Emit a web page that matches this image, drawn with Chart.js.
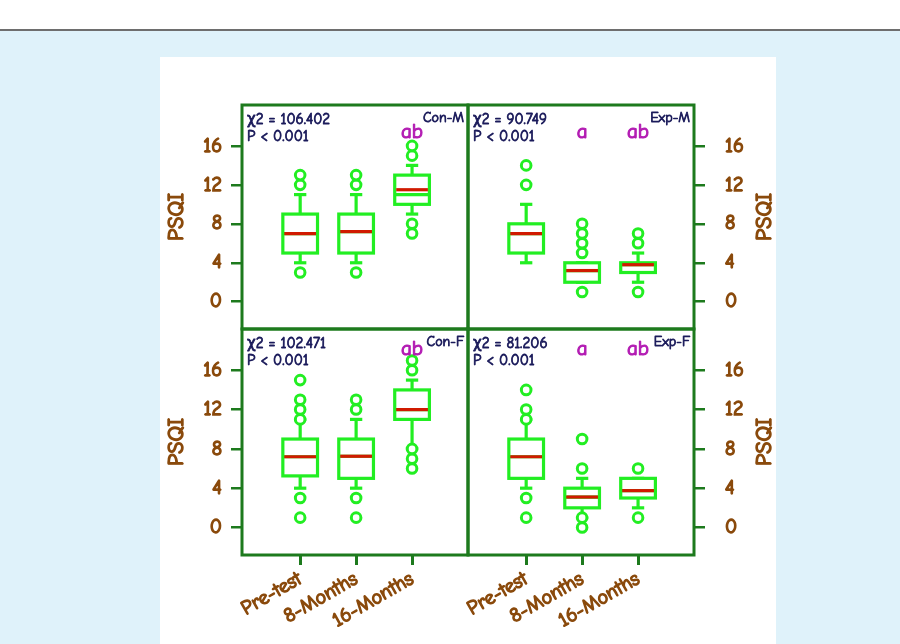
<!DOCTYPE html>
<html>
<head>
<meta charset="utf-8">
<script src="https://cdn.jsdelivr.net/npm/chart.js@4.4.1/dist/chart.umd.min.js"></script>
<style>
  html, body { margin: 0; padding: 0; width: 900px; height: 644px; overflow: hidden; background: #dff2fa; }
  #topbar { position: absolute; left: 0; top: 0; width: 900px; height: 29px; background: #fff; border-bottom: 2px solid #6e6e6e; }
  #sheet { position: absolute; left: 160px; top: 57px; width: 616px; height: 587px; background: #fff; }
  canvas { position: absolute; left: 0; top: 0; }
</style>
</head>
<body>
<div id="topbar"></div>
<div id="sheet"></div>
<canvas id="conM" width="900" height="644"></canvas>
<canvas id="expM" width="900" height="644"></canvas>
<canvas id="conF" width="900" height="644"></canvas>
<canvas id="expF" width="900" height="644"></canvas>
<script>
// Data
const categories = ['Pre-test', '8-Months', '16-Months'];
const groupNames = ['Con-M', 'Exp-M', 'Con-F', 'Exp-F'];
const chiValues = ['106.402', '90.749', '102.471', '81.206'];
const pValues = ['0.001', '0.001', '0.001', '0.001'];
const yTicks = [0, 4, 8, 12, 16];
const yLabel = 'PSQI';

// [whisker low, Q1, median, Q3, whisker high] per time point
const conMBoxes = [[4, 5, 7, 9, 11], [4, 5, 7.2, 9, 11], [9, 10, 11, 13, 14]];
const conMMeans = [7, 7.2, 11.5];
const conMOutliers = [[3, 12, 13], [3, 12, 13], [7, 8, 15, 16]];
const conMLetters = ['', '', 'ab'];

const expMBoxes = [[4, 5, 7, 8, 10], [2, 2, 3.2, 4, 4], [2, 3, 3.8, 4, 5]];
const expMMeans = [7, 3.2, 3.8];
const expMOutliers = [[12, 14], [1, 5, 6, 7, 8], [1, 6, 7]];
const expMLetters = ['', 'a', 'ab'];

const conFBoxes = [[4, 5.25, 7.2, 9, 11], [4, 5, 7.25, 9, 11], [8, 11, 12, 14, 15]];
const conFMeans = [7.2, 7.25, 12];
const conFOutliers = [[1, 3, 11, 12, 13, 15], [1, 3, 12, 13], [6, 7, 8, 16, 17]];
const conFLetters = ['', '', 'ab'];

const expFBoxes = [[4, 5, 7.2, 9, 11], [1, 2, 3.1, 4, 5], [2, 3, 3.75, 5, 5]];
const expFMeans = [7.2, 3.1, 3.75];
const expFOutliers = [[1, 3, 11, 12, 14], [0, 1, 6, 9], [1, 6]];
const expFLetters = ['', 'a', 'ab'];

// Styling
const FONT = "'Comic Sans MS', 'Comic Neue', 'DejaVu Sans', sans-serif";
const frameGreen = '#1d7a1d';
const boxGreen = '#22ee22';
const meanRed = '#d01a00';
const brown = '#8a4a0c';
const navy = '#1a1a5a';
const magenta = '#b31cb3';
const boxWidth = 0.62;
const capWidth = 0.22;

const panels = [
  { id: 'conM', g: 0, boxes: conMBoxes, means: conMMeans, outliers: conMOutliers, letters: conMLetters,
    side: 'left', showX: false, area: [242, 105, 468, 329], letterTop: 27 },
  { id: 'expM', g: 1, boxes: expMBoxes, means: expMMeans, outliers: expMOutliers, letters: expMLetters,
    side: 'right', showX: false, area: [468, 105, 694, 329], letterTop: 27 },
  { id: 'conF', g: 2, boxes: conFBoxes, means: conFMeans, outliers: conFOutliers, letters: conFLetters,
    side: 'left', showX: true, area: [242, 329, 468, 555], letterTop: 20 },
  { id: 'expF', g: 3, boxes: expFBoxes, means: expFMeans, outliers: expFOutliers, letters: expFLetters,
    side: 'right', showX: true, area: [468, 329, 694, 555], letterTop: 20 }
];

const AXIS_W = 92;
const AXIS_H = 80;

function line(ctx, x1, y1, x2, y2) {
  ctx.beginPath();
  ctx.moveTo(x1, y1);
  ctx.lineTo(x2, y2);
  ctx.stroke();
}

// filled + stroked text so the thin comic face reads as bold
function boldText(ctx, text, x, y, color, w) {
  ctx.fillStyle = color;
  ctx.strokeStyle = color;
  ctx.lineWidth = w;
  ctx.lineJoin = 'round';
  ctx.strokeText(text, x, y);
  ctx.fillText(text, x, y);
}

function panelPlugin(p) {
  return {
    id: 'panel_' + p.id,
    beforeDatasetsDraw(chart) {
      const { ctx, scales: { x, y } } = chart;
      ctx.save();
      ctx.lineWidth = 3.2;
      p.boxes.forEach((s, i) => {
        const cx = x.getPixelForValue(i + 1);
        const half = x.getPixelForValue(i + 1 + boxWidth / 2) - cx;
        const capHalf = x.getPixelForValue(i + 1 + capWidth / 2) - cx;
        const [lo, q1, med, q3, hi] = s.map(v => y.getPixelForValue(v));
        ctx.strokeStyle = boxGreen;
        line(ctx, cx, q3, cx, hi);
        line(ctx, cx - capHalf, hi, cx + capHalf, hi);
        line(ctx, cx, q1, cx, lo);
        line(ctx, cx - capHalf, lo, cx + capHalf, lo);
        ctx.fillStyle = '#fff';
        ctx.fillRect(cx - half, q3, half * 2, q1 - q3);
        ctx.strokeRect(cx - half, q3, half * 2, q1 - q3);
        line(ctx, cx - half, med, cx + half, med);
        const mean = y.getPixelForValue(p.means[i]);
        ctx.strokeStyle = meanRed;
        line(ctx, cx - half + 1.5, mean, cx + half - 1.5, mean);
      });
      ctx.restore();
    },
    afterDraw(chart) {
      const { ctx, chartArea: a, scales: { x } } = chart;
      ctx.save();
      // frame
      ctx.strokeStyle = frameGreen;
      ctx.lineWidth = 3;
      ctx.strokeRect(a.left, a.top, a.right - a.left, a.bottom - a.top);
      // statistics text
      ctx.font = '15px ' + FONT;
      ctx.textBaseline = 'middle';
      ctx.textAlign = 'left';
      boldText(ctx, '\u03c72 = ' + chiValues[p.g], a.left + 5, a.top + 15, navy, 0.8);
      boldText(ctx, 'P < ' + pValues[p.g], a.left + 5, a.top + 32, navy, 0.8);
      ctx.font = '14px ' + FONT;
      ctx.textAlign = 'right';
      boldText(ctx, groupNames[p.g], a.right - 4, a.top + 13, navy, 0.8);
      // significance letters
      ctx.font = '21px ' + FONT;
      ctx.textAlign = 'center';
      p.letters.forEach((t, i) => {
        if (t) boldText(ctx, t, x.getPixelForValue(i + 1), a.top + p.letterTop, magenta, 1.1);
      });
      // y axis title
      ctx.font = '22px ' + FONT;
      const tx = p.side === 'left' ? a.left - 65 : a.right + 71;
      ctx.translate(tx, (a.top + a.bottom) / 2);
      ctx.rotate(-Math.PI / 2);
      boldText(ctx, yLabel, 0, 0, brown, 1.4);
      ctx.restore();
    }
  };
}

panels.forEach(p => {
  const [l, t, r, b] = p.area;
  const padding = {
    top: t,
    bottom: 644 - b - (p.showX ? AXIS_H : 0),
    left: p.side === 'left' ? l - AXIS_W : l,
    right: p.side === 'left' ? 900 - r : 900 - r - AXIS_W
  };
  const points = [];
  p.outliers.forEach((list, i) => list.forEach(v => points.push({ x: i + 1, y: v })));

  new Chart(document.getElementById(p.id), {
    type: 'scatter',
    data: {
      datasets: [{
        data: points,
        pointRadius: 4.8,
        pointHoverRadius: 4.8,
        borderWidth: 3,
        borderColor: boxGreen,
        backgroundColor: '#fff'
      }]
    },
    options: {
      responsive: false,
      animation: false,
      events: [],
      layout: { padding },
      plugins: { legend: { display: false }, tooltip: { enabled: false } },
      scales: {
        x: {
          type: 'linear',
          min: -0.04,
          max: 4.0,
          display: p.showX,
          afterBuildTicks: s => { s.ticks = categories.map((c, i) => ({ value: i + 1 })); },
          afterFit: s => { if (p.showX) s.height = AXIS_H; },
          border: { display: false },
          grid: { drawOnChartArea: false, drawTicks: true, tickLength: 10, color: frameGreen, lineWidth: 3 },
          ticks: {
            color: brown,
            textStrokeColor: brown,
            textStrokeWidth: 1.3,
            font: { family: FONT, size: 20 },
            minRotation: 30,
            maxRotation: 30,
            padding: 2,
            callback: v => categories[v - 1]
          }
        },
        y: {
          position: p.side,
          min: -2.8,
          max: 20.2,
          afterBuildTicks: s => { s.ticks = yTicks.map(v => ({ value: v })); },
          afterFit: s => { s.width = AXIS_W; },
          border: { display: false },
          grid: { drawOnChartArea: false, drawTicks: true, tickLength: 11, color: frameGreen, lineWidth: 2.5 },
          ticks: {
            color: brown,
            textStrokeColor: brown,
            textStrokeWidth: 1.4,
            font: { family: FONT, size: 20 },
            padding: p.side === 'left' ? 9 : 20
          }
        }
      }
    },
    plugins: [panelPlugin(p)]
  });
});
</script>
</body>
</html>
